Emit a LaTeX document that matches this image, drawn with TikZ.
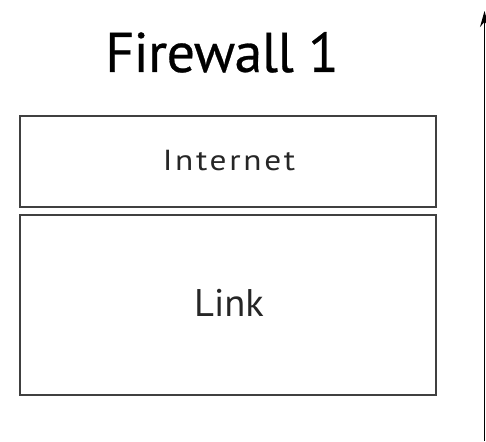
\documentclass[tikz,border=0pt]{standalone}
\usepackage{fontspec}
\setmainfont{PT Sans}
\newfontfamily\titlefont[FakeBold=0.5,LetterSpace=-1]{PT Sans}
\newfontfamily\widefont[LetterSpace=8]{PT Sans}
\usetikzlibrary{arrows.meta}
\begin{document}
\begin{tikzpicture}[x=1pt,y=-1pt,
  panel/.style={draw=black!75, line width=1.8pt},
  lbl/.style={anchor=base, inner sep=0pt, text=black!85},
  axis/.style={draw=black, line width=1.5pt, -{Stealth[length=16pt,width=9pt]}}]
  \useasboundingbox (0,0) rectangle (486,441);
  % title
  \node[lbl, text=black, font=\titlefont\fontsize{56}{60}\selectfont] (title) at (222,72) {Firewall 1};
  % stacked panels
  \draw[panel] (20,116) rectangle (436,207);
  \draw[panel] (20,215) rectangle (436,395);
  \node[lbl, font=\widefont\fontsize{29}{32}\selectfont, xscale=1.15] (inet) at (229,170) {Internet};
  \node[lbl, font=\fontsize{38.5}{42}\selectfont] (link) at (229,316) {Link};
  % vertical arrow at the right edge
  \coordinate (abot) at (484.5,441);
  \coordinate (atop) at (484.5,11);
  \draw[axis] (abot) -- (atop);
\end{tikzpicture}
\end{document}
